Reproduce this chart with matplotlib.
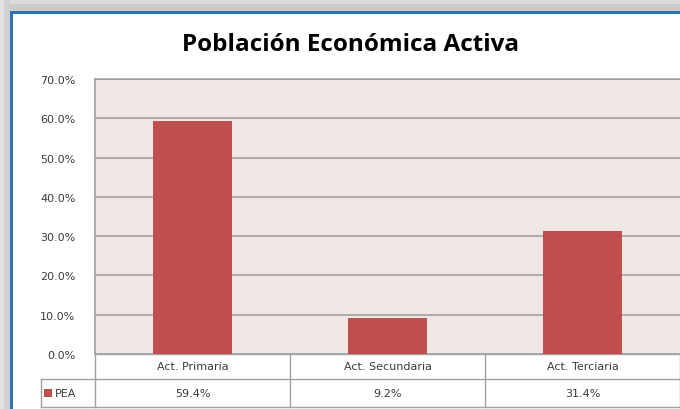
import matplotlib.pyplot as plt
from matplotlib.patches import Rectangle
import matplotlib.transforms as mtransforms

categories = ['Act. Primaria', 'Act. Secundaria', 'Act. Terciaria']
pea_values = [59.4, 9.2, 31.4]
pea_labels = ['59.4%', '9.2%', '31.4%']
y_ticks = [0, 10, 20, 30, 40, 50, 60, 70]
series_name = 'PEA'

W, H = 680, 410
bar_color = '#c0504d'
grid_color = '#a0a0a0'
text_color = '#3a3a3a'

fig = plt.figure(figsize=(W / 100, H / 100), dpi=100)
fig.patch.set_facecolor('white')


def px(x0, y0, w, h, **kw):
    # rectangle in pixel coords (origin top-left)
    fig.patches.append(Rectangle((x0 / W, 1 - (y0 + h) / H), w / W, h / H,
                                 transform=fig.transFigure, **kw))


# frame: grey shadow and blue chart border
px(0, 0, W, 12, facecolor='#cbcbcb', edgecolor='none')
px(0, 0, W, 5, facecolor='#dcdcdc', edgecolor='none')
px(0, 0, 10, H, facecolor='#d0d0d0', edgecolor='none')
px(0, 0, 4, H, facecolor='#e2e2e2', edgecolor='none')
px(10, 12, W, 3, facecolor='#2f72b8', edgecolor='none')
px(10, 12, 3, H, facecolor='#2f72b8', edgecolor='none')

# plot area
left, right, top, bottom = 95, 680, 80, 355
ax = fig.add_axes([left / W, 1 - bottom / H, (right - left) / W, (bottom - top) / H])
ax.set_facecolor('#f2e7e7')
ax.bar(range(len(categories)), pea_values, width=0.41, color=bar_color,
       zorder=3)
ax.set_xlim(-0.5, len(categories) - 0.5)
ax.set_ylim(0, 70)
ax.set_yticks(y_ticks)
ax.set_yticklabels([f'{v:.1f}%' for v in y_ticks], fontsize=8,
                   color=text_color, family='DejaVu Sans')
ax.set_xticks([])
ax.tick_params(axis='y', length=0, pad=14)
ax.yaxis.grid(True, color=grid_color, linewidth=1.2, zorder=1)
for s in ['right', 'bottom']:
    ax.spines[s].set_visible(False)
for s in ['left', 'top']:
    ax.spines[s].set_color(grid_color)
    ax.spines[s].set_linewidth(1.2)

fig.text(351 / W, 1 - 45 / H, 'Población Económica Activa', ha='center',
         va='center', fontsize=17.5, fontweight='bold', color='black',
         family='Open Sans')

# data table under the axis
trans = mtransforms.blended_transform_factory(ax.transData, ax.transAxes)
ph = bottom - top
y_head = -25 / ph
y_data = -53 / ph
x_tbl = -0.5 - (left - 41) * 3 / (right - left)
n = len(categories)
line_kw = dict(color=grid_color, linewidth=1, transform=trans, clip_on=False)
ax.plot([-0.5, n - 0.5], [0, 0], **line_kw)
ax.plot([x_tbl, n - 0.5], [y_head, y_head], **line_kw)
ax.plot([x_tbl, n - 0.5], [y_data, y_data], **line_kw)
ax.plot([x_tbl, x_tbl], [y_head, y_data], **line_kw)
for i in range(n + 1):
    ax.plot([i - 0.5, i - 0.5], [0, y_data], **line_kw)
for i, (cat, lab) in enumerate(zip(categories, pea_labels)):
    ax.text(i, y_head / 2, cat, ha='center', va='center', fontsize=8,
            color=text_color, transform=trans)
    ax.text(i, (y_head + y_data) / 2, lab, ha='center', va='center',
            fontsize=8, color=text_color, transform=trans)

# legend key in table
px(44, 390, 8, 8, facecolor=bar_color, edgecolor='none')
fig.text(55 / W, 1 - 394 / H, series_name, ha='left', va='center',
         fontsize=8, color=text_color)

fig.savefig('out.png', dpi=100)
